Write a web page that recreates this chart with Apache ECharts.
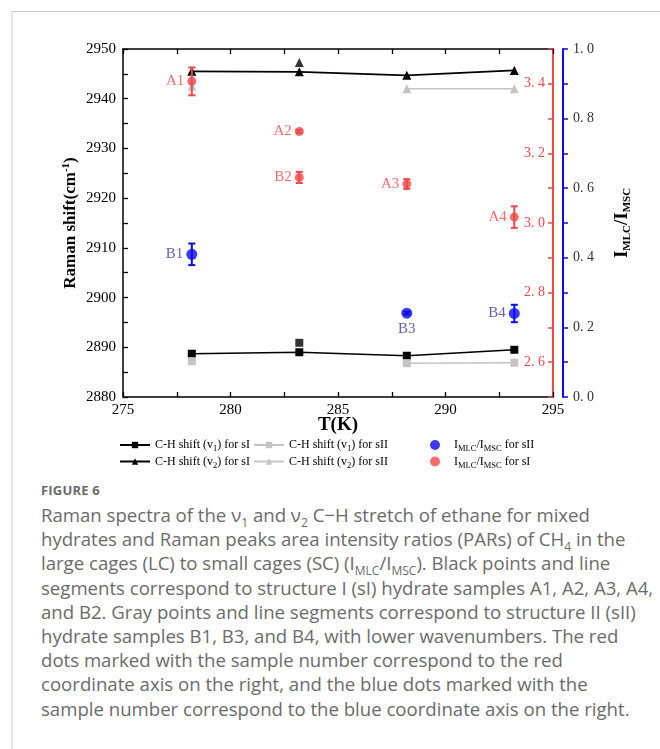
<!DOCTYPE html>
<html>
<head>
<meta charset="utf-8">
<script src="https://cdn.jsdelivr.net/npm/echarts@6/dist/echarts.min.js"></script>
<style>
  html, body { margin: 0; padding: 0; background: #fff; }
  #page { position: relative; width: 660px; height: 749px; overflow: hidden; }
  #frame { position: absolute; left: 11px; top: 11px; right: -2px; bottom: -2px;
           border-top: 1px solid #c8c8c8; border-left: 2px solid #e3e3e3; }
  #chart { position: absolute; left: 0; top: 0; width: 660px; height: 480px; }
  #caption { position: absolute; left: 41px; top: 480px; color: #6b6b6b;
             font-family: "Open Sans", Lato, sans-serif; white-space: nowrap; }
  #caption .fig { font-size: 13px; font-weight: 700; letter-spacing: 0.2px; line-height: 20px; margin-bottom: 3px; }
  #caption .txt { font-size: 18.6px; line-height: 24.2px; }
  #caption sub { font-size: 12px; line-height: 0; }
</style>
</head>
<body>
<div id="page">
  <div id="frame"></div>
  <div id="chart"></div>
  <div id="caption">
    <div class="fig">FIGURE 6</div>
    <div class="txt">
      Raman spectra of the ν<sub>1</sub> and ν<sub>2</sub> C−H stretch of ethane for mixed<br>
      hydrates and Raman peaks area intensity ratios (PARs) of CH<sub>4</sub> in the<br>
      large cages (LC) to small cages (SC) (I<sub>MLC</sub>/I<sub>MSC</sub>). Black points and line<br>
      segments correspond to structure I (sI) hydrate samples A1, A2, A3, A4,<br>
      and B2. Gray points and line segments correspond to structure II (sII)<br>
      hydrate samples B1, B3, and B4, with lower wavenumbers. The red<br>
      dots marked with the sample number correspond to the red<br>
      coordinate axis on the right, and the blue dots marked with the<br>
      sample number correspond to the blue coordinate axis on the right.
    </div>
  </div>
</div>
<script>
// temperatures (K)
const temps = [278.2, 283.2, 288.2, 293.2];
// C-H shifts (cm-1), null = no sII sample at that temperature
const v1sI = [2888.7, 2889.0, 2888.3, 2889.5];
const v1sII = [2887.2, null, 2886.8, 2886.9];
const v2sI = [2945.5, 2945.4, 2944.7, 2945.7];
const v2sII = [2942.5, null, 2942.0, 2942.0];
// extra sI sample (B2) at 283.2 K, not on the line
const extraT = [283.2];
const extraV1 = [2890.9];
const extraV2 = [2947.3];

// I_MLC / I_MSC ratios
const redNames = ["A1", "A2", "B2", "A3", "A4"];
const redT = [278.2, 283.2, 283.2, 288.2, 293.2];
const redRatio = [3.407, 3.263, 3.131, 3.112, 3.017];
const redErr = [0.040, 0.004, 0.016, 0.014, 0.031];
const blueNames = ["B1", "B3", "B4"];
const blueT = [278.2, 288.2, 293.2];
const blueRatio = [0.410, 0.241, 0.240];
const blueErr = [0.031, 0.004, 0.025];

const RED = "#f04848";
const BLUE = "#0a0af5";
const GRAY = "#c4c4c4";
const SERIF = "Liberation Serif";

const legendNames = {
  v1sI: "{n|C-H shift (v}{s|1}{n|) for sI}",
  v1sII: "{n|C-H shift (v}{s|1}{n|) for sII}",
  v2sI: "{n|C-H shift (v}{s|2}{n|) for sI}",
  v2sII: "{n|C-H shift (v}{s|2}{n|) for sII}",
  rsII: "{n|I}{s|MLC}{n|/I}{s|MSC}{n| for sII}",
  rsI: "{n|I}{s|MLC}{n|/I}{s|MSC}{n| for sI}"
};
const legendRich = {
  n: { fontFamily: SERIF, fontSize: 12, color: "#000", lineHeight: 17, verticalAlign: "middle" },
  s: { fontFamily: SERIF, fontSize: 8.5, color: "#000", lineHeight: 8, verticalAlign: "bottom" }
};

const pairs = (xs, ys) => xs.map((x, i) => [x, ys[i]]);

function tickLabel(color, size) {
  return { t: { fontFamily: SERIF, fontSize: size, color } };
}

function lineSeries(name, ys, color, symbol) {
  return {
    name, type: "line", data: pairs(temps, ys), color,
    symbol, symbolSize: symbol === "triangle" ? 9 : 8,
    lineStyle: { width: 1.6, color }, itemStyle: { color },
    connectNulls: false, z: 2
  };
}

function errorBars(ts, vals, errs, axisIdx, color) {
  return {
    type: "custom", yAxisIndex: axisIdx, silent: true, z: 3,
    data: ts.map((t, i) => [t, vals[i] - errs[i], vals[i] + errs[i]]),
    encode: { x: 0, y: [1, 2] },
    renderItem: (params, api) => {
      const lo = api.coord([api.value(0), api.value(1)]);
      const hi = api.coord([api.value(0), api.value(2)]);
      const w = 3.5;
      const style = { stroke: color, lineWidth: 2 };
      return {
        type: "group",
        children: [
          { type: "line", shape: { x1: lo[0], y1: lo[1], x2: hi[0], y2: hi[1] }, style },
          { type: "line", shape: { x1: lo[0] - w, y1: lo[1], x2: lo[0] + w, y2: lo[1] }, style },
          { type: "line", shape: { x1: hi[0] - w, y1: hi[1], x2: hi[0] + w, y2: hi[1] }, style }
        ]
      };
    }
  };
}

function ratioPoints(name, names, ts, vals, axisIdx, color, labelColor, size) {
  return {
    name, type: "scatter", yAxisIndex: axisIdx, color, symbolSize: size, z: 4,
    itemStyle: { color },
    data: ts.map((t, i) => ({
      value: [t, vals[i]],
      name: names[i],
      label: { position: names[i] === "B3" ? "bottom" : "left" }
    })),
    label: {
      show: true, formatter: "{t|{b}}", distance: 3,
      rich: tickLabel(labelColor, 15)
    }
  };
}

const chart = echarts.init(document.getElementById("chart"));

const xBase = {
  type: "value", min: 275, max: 295, interval: 5,
  axisLine: { show: true, lineStyle: { color: "#000", width: 1.5 } },
  axisTick: { show: true, inside: true, length: 5, lineStyle: { color: "#000", width: 1.3 } },
  minorTick: { show: true, splitNumber: 2, length: 5, lineStyle: { color: "#000", width: 1.3 } },
  splitLine: { show: false }
};

chart.setOption({
  animation: false,
  grid: { left: 123, top: 49, width: 430, height: 348 },
  xAxis: [
    Object.assign({}, xBase, {
      position: "bottom",
      name: "T(K)", nameLocation: "middle", nameGap: 19, nameMoveOverlap: false,
      nameTextStyle: { fontFamily: SERIF, fontSize: 19, fontWeight: "bold", color: "#000", verticalAlign: "top" },
      axisLabel: { margin: 6, formatter: v => "{t|" + v + "}", rich: tickLabel("#000", 15) }
    }),
    Object.assign({}, xBase, { position: "top", axisLabel: { show: false } })
  ],
  yAxis: [
    {
      type: "value", position: "left", min: 2880, max: 2950, interval: 10,
      axisLine: { show: true, lineStyle: { color: "#000", width: 1.5 } },
      axisTick: { show: true, inside: true, length: 5, lineStyle: { color: "#000", width: 1.3 } },
      minorTick: { show: true, splitNumber: 2, length: 5, lineStyle: { color: "#000", width: 1.3 } },
      splitLine: { show: false },
      axisLabel: { margin: 7, formatter: v => "{t|" + v + "}", rich: tickLabel("#000", 15) },
      name: "{b|Raman shift(cm}{sup|-1}{b|)}", nameLocation: "middle", nameGap: 42, nameRotate: 90,
      nameMoveOverlap: false,
      nameTextStyle: {
        rich: {
          b: { fontFamily: SERIF, fontSize: 17, fontWeight: "bold", color: "#000", lineHeight: 20, verticalAlign: "middle" },
          sup: { fontFamily: SERIF, fontSize: 11, fontWeight: "bold", color: "#000", lineHeight: 11, verticalAlign: "top" }
        }
      }
    },
    {
      type: "value", position: "right", min: 2.5, max: 3.5, interval: 0.1,
      axisLine: { show: true, onZero: false, lineStyle: { color: RED, width: 2 } },
      axisTick: { show: true, inside: true, length: 5, lineStyle: { color: RED, width: 1.5 } },
      splitLine: { show: false },
      axisLabel: {
        inside: true, margin: 8, rich: tickLabel(RED, 14),
        formatter: v => (Math.round(v * 10) % 2 === 0 ? "{t|" + v.toFixed(1).replace(".", ". ") + "}" : "")
      }
    },
    {
      type: "value", position: "right", offset: 10, min: 0, max: 1, interval: 0.2,
      axisLine: { show: true, onZero: false, lineStyle: { color: BLUE, width: 2 } },
      axisTick: { show: true, length: 5, lineStyle: { color: BLUE, width: 1.5 } },
      minorTick: { show: true, splitNumber: 2, length: 5, lineStyle: { color: BLUE, width: 1.5 } },
      splitLine: { show: false },
      axisLabel: {
        margin: 10, rich: tickLabel("#333", 14),
        formatter: v => "{t|" + v.toFixed(1).replace(".", ". ") + "}"
      },
      name: "{b|I}{s|MLC}{b|/I}{s|MSC}", nameLocation: "middle", nameGap: 48, nameRotate: 90,
      nameMoveOverlap: false,
      nameTextStyle: {
        rich: {
          b: { fontFamily: SERIF, fontSize: 19, fontWeight: "bold", color: "#000", lineHeight: 22, verticalAlign: "middle" },
          s: { fontFamily: SERIF, fontSize: 11, fontWeight: "bold", color: "#000", lineHeight: 10, verticalAlign: "bottom" }
        }
      }
    }
  ],
  legend: [
    {
      data: ["v1sI", "v2sI"], orient: "vertical", left: 114, top: 434, itemGap: 2,
      itemWidth: 30, itemHeight: 8, formatter: n => legendNames[n],
      textStyle: { rich: legendRich }, selectedMode: false
    },
    {
      data: ["v1sII", "v2sII"], orient: "vertical", left: 248, top: 434, itemGap: 2,
      itemWidth: 30, itemHeight: 8, formatter: n => legendNames[n],
      textStyle: { rich: legendRich }, selectedMode: false
    },
    {
      data: ["rsII", "rsI"], orient: "vertical", left: 425, top: 434, itemGap: 2,
      itemWidth: 10, itemHeight: 10, formatter: n => legendNames[n],
      textStyle: { rich: legendRich, padding: [0, 0, 0, 9] }, selectedMode: false
    }
  ],
  series: [
    lineSeries("v1sI", v1sI, "#000", "rect"),
    lineSeries("v1sII", v1sII, GRAY, "rect"),
    lineSeries("v2sI", v2sI, "#000", "triangle"),
    lineSeries("v2sII", v2sII, GRAY, "triangle"),
    { name: "v1sI", type: "scatter", data: pairs(extraT, extraV1), symbol: "rect", symbolSize: 8, itemStyle: { color: "#000" } },
    { name: "v2sI", type: "scatter", data: pairs(extraT, extraV2), symbol: "triangle", symbolSize: 9, itemStyle: { color: "#000" } },
    errorBars(blueT, blueRatio, blueErr, 2, BLUE),
    errorBars(redT, redRatio, redErr, 1, RED),
    ratioPoints("rsII", blueNames, blueT, blueRatio, 2, BLUE, "#3a3aa0", 11),
    ratioPoints("rsI", redNames, redT, redRatio, 1, RED, RED, 9)
  ]
});
</script>
</body>
</html>
